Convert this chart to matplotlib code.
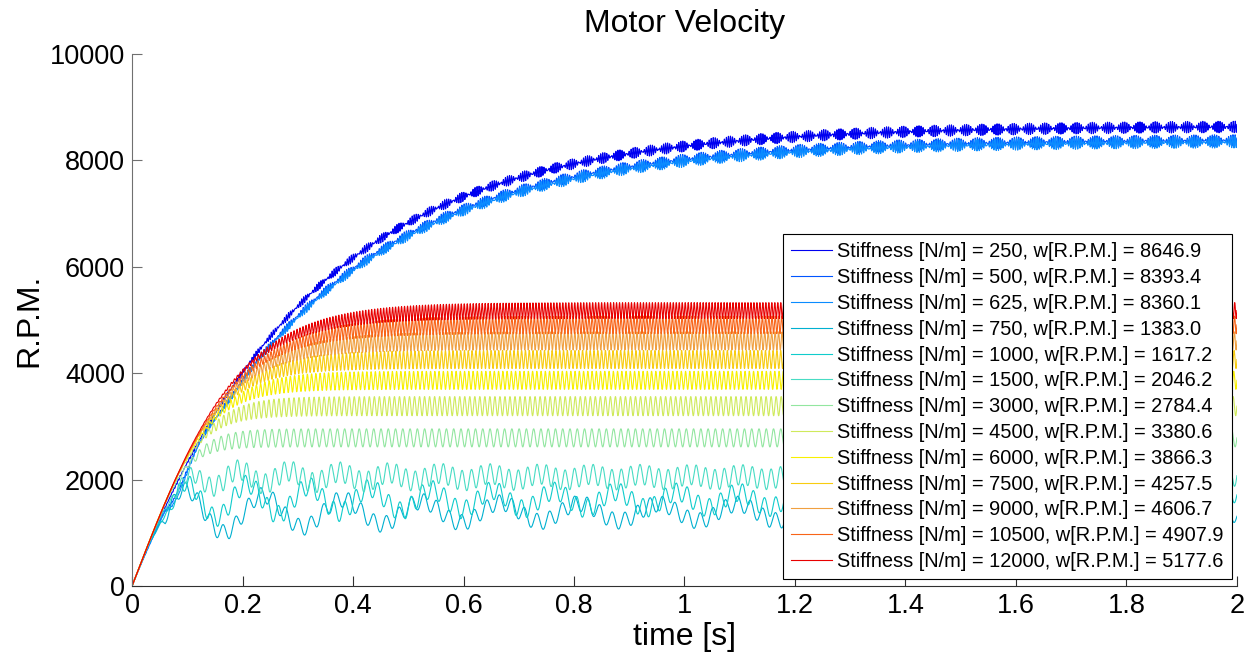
import numpy as np
import matplotlib
matplotlib.use("Agg")
import matplotlib.pyplot as plt
from matplotlib.ticker import FuncFormatter

# Spring stiffness of each run and the motor speed it settles at
stiffness = [250, 500, 625, 750, 1000, 1500, 3000, 4500, 6000, 7500, 9000, 10500, 12000]
final_rpm = [8646.9, 8393.4, 8360.1, 1383.0, 1617.2, 2046.2, 2784.4,
             3380.6, 3866.3, 4257.5, 4606.7, 4907.9, 5177.6]

line_colors = ['#0000f0', '#0055ff', '#0a8cff', '#00b0d0', '#10cccc', '#48dcc4',
               '#92e6a0', '#cfea5c', '#f8f000', '#f8cc10', '#f0a040', '#f86418', '#e80000']

# Start-up acceleration and sharpness of the approach to the final speed
accel_rpm_s = [27000, 26000, 25800, 27000, 27000, 27000, 27000,
               27000, 27000, 27000, 27000, 27000, 27000]
knee_order = [1, 1, 1, 3, 3, 3, 3, 2.8, 2.5, 2.3, 2.1, 2.0, 2.0]

# Torsional ripple: two tones per run, scaled by (speed / final speed) ** onset
ripple_amp = [58, 58, 58, 150, 170, 190, 170, 180, 170, 170, 170, 165, 150]
ripple_freq = [255, 240, 230, 44, 50, 59, 76, 110, 130, 145, 160, 172, 185]
beat_amp = [52, 52, 52, 0, 0, 0, 0, 0, 0, 0, 0, 0, 0]
beat_freq = [290, 268, 258, 0, 0, 0, 0, 0, 0, 0, 0, 0, 0]
ripple_onset = [1, 1, 1, 6, 6, 6, 6, 6, 6, 6, 6, 6, 6]

# Slow start-up swing of the soft couplings
slow_amp0 = [0, -200, -300, 350, 250, 150, 0, 0, 0, 0, 0, 0, 0]
slow_amp_ss = [0, 0, 0, 150, 130, 40, 0, 0, 0, 0, 0, 0, 0]
slow_tau = [1, 0.05, 0.05, 0.25, 0.35, 0.3, 1, 1, 1, 1, 1, 1, 1]
slow_freq = [0, 10, 10, 7, 9, 11, 0, 0, 0, 0, 0, 0, 0]
slow_start = [0, 0.06, 0.06, 0.06, 0.07, 0.08, 0, 0, 0, 0, 0, 0, 0]

dt = 2e-4
t = np.arange(0.0, 2.0 + dt / 2, dt)

V = np.array(final_rpm)
n = np.array(knee_order, dtype=float)
acc = np.array(accel_rpm_s, dtype=float)
mean_speed = np.zeros((t.size, V.size))
cur = np.zeros(V.size)
for i in range(1, t.size):
    cur = cur + acc * dt * (1.0 - np.clip(cur / V, 0, None) ** n)
    mean_speed[i] = cur

fig = plt.figure(figsize=(12.54, 6.59), dpi=100)
ax = fig.add_axes([0.1053, 0.1108, 0.8811, 0.8072])

for j, k in enumerate(stiffness):
    base = mean_speed[:, j]
    on = np.clip(base / V[j], 0, 1) ** ripple_onset[j]
    w = base + on * (ripple_amp[j] * np.sin(2 * np.pi * ripple_freq[j] * t)
                     + beat_amp[j] * np.sin(2 * np.pi * beat_freq[j] * t + 1.0))
    if slow_freq[j] > 0:
        ts = t - slow_start[j]
        amp = slow_amp_ss[j] + slow_amp0[j] * np.exp(-np.clip(ts, 0, None) / slow_tau[j])
        w = w + np.where(ts > 0, amp * np.sin(2 * np.pi * slow_freq[j] * ts), 0.0)
    ax.plot(t, w, color=line_colors[j], lw=0.8,
            label=f"Stiffness [N/m] = {k}, w[R.P.M.] = {final_rpm[j]:.1f}")

ax.set_xlim(0, 2)
ax.set_ylim(0, 10000)
ax.set_xticks(np.arange(0, 2.01, 0.2))
ax.set_yticks(np.arange(0, 10001, 2000))
ax.xaxis.set_major_formatter(FuncFormatter(lambda x, p: f"{x:g}"))
ax.yaxis.set_major_formatter(FuncFormatter(lambda y, p: f"{y:g}"))

font = 'Liberation Sans'
ax.tick_params(direction='in', length=7.5, width=0.8, labelsize=19.5, pad=5)
for lab in ax.get_xticklabels() + ax.get_yticklabels():
    lab.set_fontfamily(font)
ax.spines['top'].set_visible(False)
ax.spines['right'].set_visible(False)
ax.spines['left'].set_color('#707070')
ax.spines['bottom'].set_color('#303030')
ax.tick_params(axis='y', colors='#707070', labelcolor='black')
ax.tick_params(axis='x', colors='#303030', labelcolor='black')

ax.set_title("Motor Velocity", fontsize=23, family=font, pad=16)
ax.set_xlabel("time [s]", fontsize=23, family=font, labelpad=2)
ax.set_ylabel("R.P.M.", fontsize=23, family=font, labelpad=4)

leg = ax.legend(loc='lower right', bbox_to_anchor=(0.9955, 0.0132),
                prop={'family': font, 'size': 14.4},
                frameon=True, fancybox=False, framealpha=1, edgecolor='black',
                borderaxespad=0, handlelength=2.05, handletextpad=0.25,
                labelspacing=0.34, borderpad=0.4)
leg.get_frame().set_linewidth(0.8)

fig.savefig("out.png", dpi=100)
